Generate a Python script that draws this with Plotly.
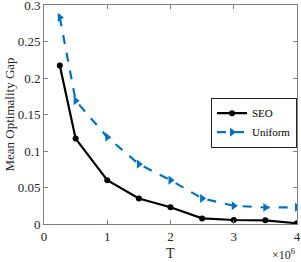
import plotly.graph_objects as go

T = [0.25e6, 0.5e6, 1e6, 1.5e6, 2e6, 2.5e6, 3e6, 3.5e6, 4e6]
seo = [0.217, 0.117, 0.060, 0.035, 0.023, 0.0077, 0.0055, 0.005, 0.001]
uniform = [0.283, 0.169, 0.119, 0.082, 0.060, 0.035, 0.025, 0.0226, 0.023]
xticks = [0, 1e6, 2e6, 3e6, 4e6]
xticklabels = ["0", "1", "2", "3", "4"]
yticks = [0, 0.05, 0.1, 0.15, 0.2, 0.25, 0.3]
yticklabels = ["0", "0.05", "0.1", "0.15", "0.2", "0.25", "0.3"]

font = "Liberation Serif"
tc = "#262626"
fig = go.Figure()
fig.add_trace(go.Scatter(x=T, y=seo, name="SEO", mode="lines+markers",
                         line=dict(color="black", width=2.2),
                         marker=dict(symbol="circle", size=6, color="black")))
fig.add_trace(go.Scatter(x=T, y=uniform, name="Uniform", mode="lines+markers",
                         line=dict(color="#0072BD", width=2.2, dash="dash"),
                         marker=dict(symbol="triangle-right", size=8, color="#0072BD")))
axcommon = dict(showline=True, linecolor="#808080", linewidth=1, mirror="ticks",
                ticks="inside", ticklen=4, tickcolor="#808080", showgrid=False,
                zeroline=False, automargin=False, ticklabeloverflow="allow",
                tickfont=dict(family=font, size=13, color=tc))
fig.update_xaxes(range=[0, 4e6], tickvals=xticks, ticktext=xticklabels, **axcommon)
fig.update_yaxes(range=[0, 0.3], tickvals=yticks, ticktext=yticklabels, **axcommon)
fig.add_annotation(x=0.5, y=0, xref="paper", yref="paper", yshift=-20, xanchor="center", yanchor="top",
                   text="T", showarrow=False, font=dict(family=font, size=14, color=tc))
fig.add_annotation(x=0, y=0.5, xref="paper", yref="paper", xshift=-35, xanchor="center", yanchor="middle",
                   text="Mean Optimality Gap", textangle=-90, showarrow=False,
                   font=dict(family=font, size=13, color=tc))
fig.add_annotation(x=1, y=0, xref="paper", yref="paper", yshift=-21, xanchor="right", yanchor="top",
                   text="×10<sup>6</sup>", showarrow=False,
                   font=dict(family=font, size=12, color=tc))
fig.update_layout(width=301, height=262, margin=dict(l=44, r=4, t=5, b=38, autoexpand=False),
                  font=dict(family=font, color=tc),
                  plot_bgcolor="white", paper_bgcolor="white", showlegend=True,
                  legend=dict(x=1, y=0.577, xanchor="right", yanchor="top",
                              bgcolor="white", bordercolor=tc, borderwidth=1,
                              font=dict(family=font, size=11, color="black"),
                              tracegroupgap=0, itemwidth=30))
fig.write_html("out.html", config={"displayModeBar": False},
               post_script="document.body.style.margin='0';document.body.style.overflow='hidden';")
